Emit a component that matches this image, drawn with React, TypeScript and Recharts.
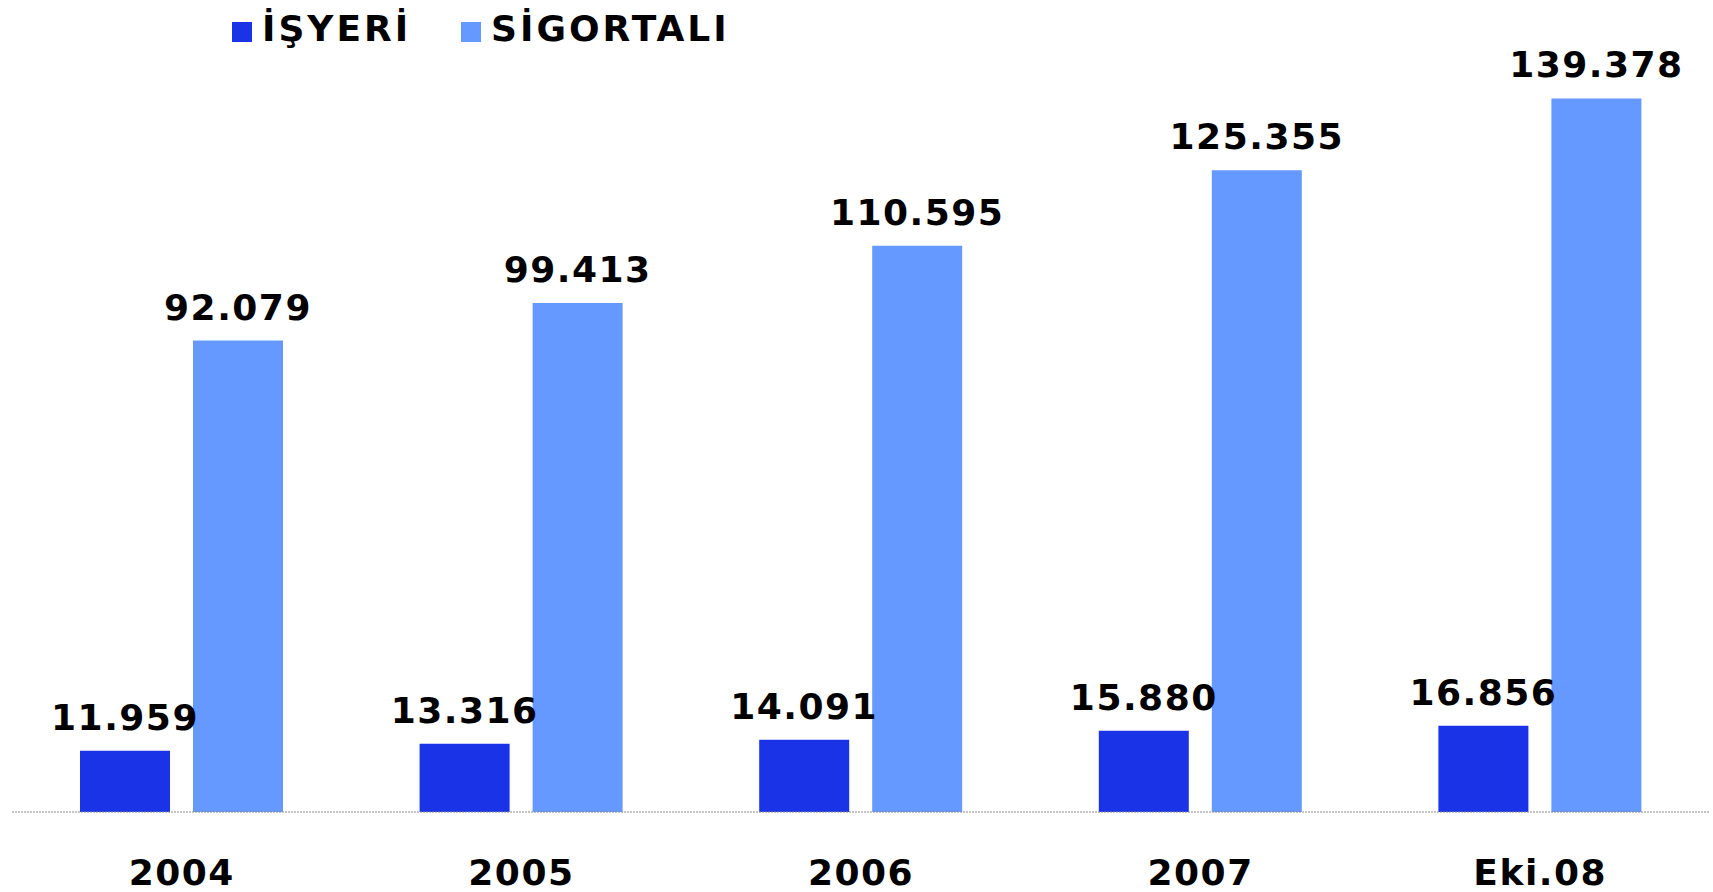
import React from "react";
import { BarChart, Bar, XAxis, YAxis, Legend, LabelList } from "recharts";

const categories = ["2004", "2005", "2006", "2007", "Eki.08"];
const isyeri = [11959, 13316, 14091, 15880, 16856];
const sigortali = [92079, 99413, 110595, 125355, 139378];

const data = categories.map((name, i) => ({
  name,
  isyeri: isyeri[i],
  sigortali: sigortali[i],
}));

const FONT = "'DejaVu Sans', Verdana, sans-serif";

// 92079 -> "92.079"
const fmt = (v: number) => String(v).replace(/\B(?=(\d{3})+(?!\d))/g, ".");

const labelStyle = { fontFamily: FONT, fontWeight: "bold", fontSize: 36, letterSpacing: 1.5, fill: "#000" };

const XTick = (props: any) => {
  const { x, y, payload } = props;
  return (
    <text x={x} y={y + 73} textAnchor="middle" style={labelStyle as any}>
      {payload.value}
    </text>
  );
};

const LegendContent = (props: any) => (
  <div style={{ display: "flex", alignItems: "center", fontFamily: FONT }}>
    {props.payload.map((entry: any) => (
      <div key={entry.value} style={{ display: "flex", alignItems: "center", marginRight: 50 }}>
        <span style={{ width: 20, height: 20, background: entry.color, marginRight: 10, marginTop: 6 }} />
        <span style={{ fontSize: 36, fontWeight: "bold", letterSpacing: 3, color: "#000", lineHeight: "40px" }}>
          {entry.value}
        </span>
      </div>
    ))}
  </div>
);

export default function App() {
  return (
    <div style={{ width: 1713, height: 892, background: "#fff" }}>
      <style>{`body{margin:0}`}</style>
      <BarChart
        width={1713}
        height={892}
        data={data}
        margin={{ top: 44, right: 3, left: 12, bottom: 0 }}
        barSize={90}
        barGap={23}
      >
        <XAxis
          dataKey="name"
          height={80}
          tickLine={false}
          tickSize={0}
          tickMargin={0}
          axisLine={{ stroke: "#888", strokeDasharray: "2 1" }}
          tick={<XTick />}
        />
        <YAxis hide domain={[0, 150000]} />
        <Legend
          verticalAlign="middle"
          align="center"
          itemSorter="dataKey"
          content={<LegendContent />}
          wrapperStyle={{ top: 9, left: 232, width: "auto" }}
        />
        <Bar dataKey="isyeri" name="İŞYERİ" fill="#1b33e6" isAnimationActive={false}>
          <LabelList dataKey="isyeri" position="top" offset={21} formatter={(v: any) => fmt(v)} style={labelStyle} />
        </Bar>
        <Bar dataKey="sigortali" name="SİGORTALI" fill="#6699ff" isAnimationActive={false}>
          <LabelList dataKey="sigortali" position="top" offset={21} formatter={(v: any) => fmt(v)} style={labelStyle} />
        </Bar>
      </BarChart>
    </div>
  );
}
